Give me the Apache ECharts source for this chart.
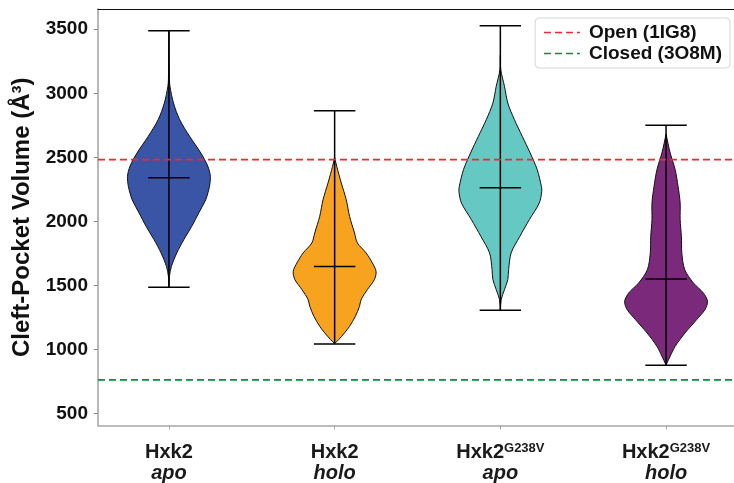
<!DOCTYPE html>
<html>
<head>
<meta charset="utf-8">
<script src="https://cdn.jsdelivr.net/npm/echarts@6/dist/echarts.min.js"></script>
<style>html,body{margin:0;padding:0;background:#fff;}#chart{width:734px;height:483px;}</style>
</head>
<body>
<div id="chart"></div>
<script>
// ---- data ----
const categories = ['Hxk2 apo', 'Hxk2 holo', 'Hxk2G238V apo', 'Hxk2G238V holo'];
const positions = [1, 2, 3, 4];
const mainLabels = ['Hxk2', 'Hxk2', 'Hxk2', 'Hxk2'];
const supLabels = ['', '', 'G238V', 'G238V'];
const stateLabels = ['apo', 'holo', 'apo', 'holo'];
const maxVals = [3488, 2864, 3527, 2750];
const minVals = [1486, 1044, 1306, 877];
const meanVals = [2340, 1649, 2262, 1551];
const yTicks = [500, 1000, 1500, 2000, 2500, 3000, 3500];
const openRef = 2482;
const closedRef = 763;
const refNames = ['Open (1IG8)', 'Closed (3O8M)'];

// violin outlines: value -> relative half-width (1 = widest)
const apoValues = [3486, 3106, 3054, 2924, 2794, 2664, 2534, 2430, 2352, 2274, 2222, 2170, 2066, 1961, 1858, 1754, 1649, 1571, 1488];
const apoWidths = [0, 0.012, 0.025, 0.11, 0.26, 0.50, 0.77, 0.94, 1.0, 0.98, 0.94, 0.89, 0.72, 0.55, 0.36, 0.19, 0.06, 0.012, 0];
const holoValues = [2500, 2430, 2300, 2170, 2040, 1910, 1832, 1754, 1676, 1610, 1546, 1468, 1390, 1337, 1259, 1181, 1130, 1078, 1046];
const holoWidths = [0, 0.05, 0.16, 0.28, 0.36, 0.48, 0.55, 0.76, 0.91, 1.0, 0.96, 0.79, 0.64, 0.60, 0.50, 0.36, 0.24, 0.10, 0];
const mutApoValues = [3300, 3184, 3054, 2924, 2794, 2664, 2534, 2404, 2274, 2235, 2144, 2014, 1883, 1754, 1624, 1546, 1468, 1390, 1308];
const mutApoWidths = [0, 0.01, 0.10, 0.18, 0.34, 0.53, 0.72, 0.89, 0.99, 1.0, 0.94, 0.70, 0.47, 0.26, 0.20, 0.18, 0.10, 0.02, 0];
const mutHoloValues = [2680, 2534, 2404, 2274, 2144, 2014, 1883, 1754, 1624, 1520, 1442, 1376, 1312, 1234, 1130, 1025, 948, 879];
const mutHoloWidths = [0, 0.10, 0.22, 0.29, 0.34, 0.34, 0.37, 0.38, 0.45, 0.66, 0.90, 1.0, 0.94, 0.74, 0.46, 0.22, 0.10, 0];

const profileValues = [apoValues, holoValues, mutApoValues, mutHoloValues];
const profileWidths = [apoWidths, holoWidths, mutApoWidths, mutHoloWidths];
const colors = ['#3a55a6', '#f7a31f', '#66c8c2', '#7b2a7b'];

const X_MIN = 0.572, X_MAX = 4.41;
const HALF = 0.25;   // max half-width in x units
const CAP = 0.125;   // cap half-width

const chart = echarts.init(document.getElementById('chart'), null, {renderer: 'canvas'});
const FONT = 'Liberation Sans';

function renderViolin(params, api) {
  const i = params.dataIndex;
  const c = positions[i];
  const vals = profileValues[i], ws = profileWidths[i];
  const right = [], left = [];
  for (let k = 0; k < vals.length; k++) {
    right.push(api.coord([c + ws[k] * HALF, vals[k]]));
  }
  for (let k = vals.length - 1; k >= 0; k--) {
    left.push(api.coord([c - ws[k] * HALF, vals[k]]));
  }
  const pts = right.concat(left);
  const top = api.coord([c, maxVals[i]]);
  const bot = api.coord([c, minVals[i]]);
  const capL = api.coord([c - CAP, maxVals[i]])[0];
  const capR = api.coord([c + CAP, maxVals[i]])[0];
  const mean = api.coord([c, meanVals[i]]);
  const ls = {stroke: '#000', lineWidth: 1.5};
  return {
    type: 'group',
    children: [
      {type: 'polygon', shape: {points: pts, smooth: 0.3}, style: {fill: colors[i], stroke: '#111', lineWidth: 1}},
      {type: 'line', shape: {x1: top[0], y1: top[1], x2: bot[0], y2: bot[1]}, style: ls},
      {type: 'line', shape: {x1: capL, y1: top[1], x2: capR, y2: top[1]}, style: ls},
      {type: 'line', shape: {x1: capL, y1: bot[1], x2: capR, y2: bot[1]}, style: ls},
      {type: 'line', shape: {x1: capL, y1: mean[1], x2: capR, y2: mean[1]}, style: ls}
    ]
  };
}

const option = {
  animation: false,
  backgroundColor: '#fff',
  grid: {left: 98, top: 9, width: 636, height: 417, containLabel: false},
  legend: {
    data: refNames,
    orient: 'vertical',
    right: 4, top: 18,
    padding: [5, 8, 5, 8],
    itemGap: 2,
    itemWidth: 36, itemHeight: 14,
    itemStyle: {color: 'rgba(0,0,0,0)', borderColor: 'rgba(0,0,0,0)', borderWidth: 0},
    lineStyle: {width: 1.6, opacity: 1},
    borderColor: '#d6d6d6', borderWidth: 1, borderRadius: 4,
    backgroundColor: '#fff',
    textStyle: {fontFamily: FONT, fontWeight: 'bold', fontSize: 19, color: '#111', padding: [0, 0, 0, 4]}
  },
  xAxis: [{
    type: 'value', min: X_MIN, max: X_MAX, position: 'bottom',
    axisLine: {show: true, onZero: false, lineStyle: {color: '#a8a8a8', width: 1.5}},
    axisTick: {show: true, length: 4, customValues: positions, lineStyle: {color: '#a8a8a8'}},
    splitLine: {show: false},
    axisLabel: {
      customValues: positions, margin: 16,
      formatter: function (v) {
        const i = Math.round(v) - 1;
        const first = supLabels[i] ? '{m|' + mainLabels[i] + '}{s|' + supLabels[i] + '}' : '{m|' + mainLabels[i] + '}';
        return first + '\n{it|' + stateLabels[i] + '}';
      },
      rich: {
        m: {fontFamily: FONT, fontWeight: 'bold', fontSize: 20, color: '#1a1a1a', lineHeight: 21},
        s: {fontFamily: FONT, fontWeight: 'bold', fontSize: 13, color: '#1a1a1a', verticalAlign: 'bottom', padding: [0, 0, 8, 0], lineHeight: 21},
        it: {fontFamily: FONT, fontWeight: 'bold', fontStyle: 'italic', fontSize: 20, color: '#1a1a1a', lineHeight: 21}
      }
    }
  }, {
    type: 'value', min: X_MIN, max: X_MAX, position: 'top',
    axisLine: {show: true, onZero: false, lineStyle: {color: '#111', width: 1}},
    axisTick: {show: false}, axisLabel: {show: false}, splitLine: {show: false}
  }],
  yAxis: {
    type: 'value', min: 407, max: 3658,
    name: 'Cleft-Pocket Volume (Å³)', nameLocation: 'middle', nameGap: 64, nameMoveOverlap: false,
    nameTextStyle: {fontFamily: FONT, fontWeight: 'bold', fontSize: 24, color: '#111'},
    axisLine: {show: true, onZero: false, lineStyle: {color: '#a0a0a0', width: 1.5}},
    axisTick: {show: true, length: 4, customValues: yTicks, lineStyle: {color: '#888'}},
    splitLine: {show: false},
    axisLabel: {customValues: yTicks, margin: 10, fontFamily: FONT, fontWeight: 'bold', fontSize: 19, color: '#111',
      formatter: function (v) { return String(v); }}
  },
  series: [
    {
      name: refNames[0], type: 'line', symbol: 'none', silent: true,
      data: [[X_MIN, openRef], [X_MAX, openRef]],
      lineStyle: {color: '#ee2a2a', width: 1.6, type: [7, 4]}, itemStyle: {color: '#ee2a2a'}, z: 5
    },
    {
      name: refNames[1], type: 'line', symbol: 'none', silent: true,
      data: [[X_MIN, closedRef], [X_MAX, closedRef]],
      lineStyle: {color: '#108c3e', width: 1.6, type: [7, 4]}, itemStyle: {color: '#108c3e'}, z: 5
    },
    {
      type: 'custom', renderItem: renderViolin, z: 3,
      data: categories.map(function (c, i) { return [positions[i], meanVals[i]]; })
    }
  ]
};
chart.setOption(option);
</script>
</body>
</html>
